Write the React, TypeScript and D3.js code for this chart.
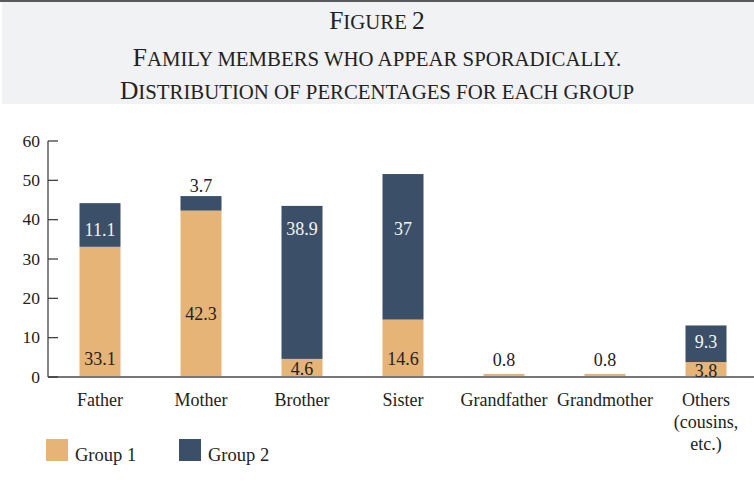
import React, { useEffect, useRef } from "react";
import * as d3 from "d3";

const categories = ["Father", "Mother", "Brother", "Sister", "Grandfather", "Grandmother", "Others (cousins, etc.)"];
const group1 = [33.1, 42.3, 4.6, 14.6, 0.8, 0.8, 3.8];
const group2 = [11.1, 3.7, 38.9, 37, 0, 0, 9.3];
// where each value label sits, in axis units
const group1LabelAt = [4.6, 16.0, 2.0, 4.6, 4.3, 4.3, 1.5];
const group2LabelAt = [37.4, 48.6, 37.6, 37.6, null, null, 8.9];
const yTicks = [0, 10, 20, 30, 40, 50, 60];
const seriesNames = ["Group 1", "Group 2"];
const titleLines = ["Figure 2", "Family members who appear sporadically.", "Distribution of percentages for each group"];

// split a line into runs of big capitals / small capitals
const smallCaps = (s) => {
  const runs = [];
  for (const ch of s) {
    const big = /[A-Z0-9]/.test(ch);
    const last = runs[runs.length - 1];
    if (last && last.big === big) last.text += ch.toUpperCase();
    else runs.push({ big, text: ch.toUpperCase() });
  }
  return runs;
};

const App = () => {
  const svgRef = useRef(null);

  useEffect(() => {
    const width = 754;
    const height = 483;
    const colors = ["#e5b476", "#3b5068"];
    const font = "'Liberation Serif', 'Times New Roman', serif";

    const svg = d3.select(svgRef.current).attr("width", width).attr("height", height);
    svg.selectAll("*").remove();

    // title box
    svg.append("rect").attr("x", 2).attr("y", 2).attr("width", width - 2).attr("height", 102).attr("fill", "#f1f2f4");
    svg.append("rect").attr("x", 0).attr("y", 0).attr("width", width).attr("height", 2).attr("fill", "#5a5a5a");

    svg
      .append("g")
      .selectAll("text")
      .data(titleLines)
      .join("text")
      .attr("x", width / 2)
      .attr("y", (d, i) => [29, 66, 99][i])
      .attr("text-anchor", "middle")
      .attr("font-family", font)
      .attr("fill", "#222")
      .selectAll("tspan")
      .data((d) => smallCaps(d))
      .join("tspan")
      .attr("font-size", (d) => (d.big ? 25.5 : 20.8))
      .text((d) => d.text);

    const x = d3.scaleBand().domain(categories).range([49.5, 756.5]).paddingInner(0.594).paddingOuter(0.297);
    const y = d3.scaleLinear().domain([0, 60]).range([377, 141]);

    // bars
    const bars = svg.append("g");
    bars
      .selectAll("rect.g1")
      .data(categories)
      .join("rect")
      .attr("class", "g1")
      .attr("x", (d) => x(d))
      .attr("width", x.bandwidth())
      .attr("y", (d, i) => y(group1[i]))
      .attr("height", (d, i) => y(0) - y(group1[i]))
      .attr("fill", colors[0]);
    bars
      .selectAll("rect.g2")
      .data(categories)
      .join("rect")
      .attr("class", "g2")
      .attr("x", (d) => x(d))
      .attr("width", x.bandwidth())
      .attr("y", (d, i) => y(group1[i] + group2[i]))
      .attr("height", (d, i) => y(group1[i]) - y(group1[i] + group2[i]))
      .attr("fill", colors[1]);

    // axis
    const axis = svg.append("g").attr("font-family", font);
    axis.append("line").attr("x1", 48).attr("x2", 48).attr("y1", y(60)).attr("y2", y(0)).attr("stroke", "#333").attr("stroke-width", 1.2);
    axis.append("line").attr("x1", 48).attr("x2", width).attr("y1", y(0)).attr("y2", y(0)).attr("stroke", "#777").attr("stroke-width", 2);
    axis
      .selectAll("line.tick")
      .data(yTicks)
      .join("line")
      .attr("class", "tick")
      .attr("x1", 48)
      .attr("x2", 58)
      .attr("y1", (d) => y(d))
      .attr("y2", (d) => y(d))
      .attr("stroke", "#333")
      .attr("stroke-width", 1.2);
    axis
      .selectAll("text")
      .data(yTicks)
      .join("text")
      .attr("x", 40)
      .attr("y", (d) => y(d))
      .attr("dy", "0.33em")
      .attr("text-anchor", "end")
      .attr("font-size", 17.5)
      .attr("fill", "#222")
      .text((d) => d);

    // category labels
    const cats = svg
      .append("g")
      .selectAll("text")
      .data(categories)
      .join("text")
      .attr("x", (d) => x(d) + x.bandwidth() / 2)
      .attr("y", 406)
      .attr("text-anchor", "middle")
      .attr("font-family", font)
      .attr("font-size", 18)
      .attr("fill", "#222");
    cats
      .selectAll("tspan")
      .data((d) => (d.startsWith("Others") ? ["Others", "(cousins,", "etc.)"] : [d]))
      .join("tspan")
      .attr("x", function () {
        return (this.parentNode as SVGTextElement).getAttribute("x");
      })
      .attr("dy", (d, i) => (i === 0 ? 0 : 22))
      .text((d) => d);

    // value labels
    const labels = svg.append("g").attr("font-family", font).attr("font-size", 18).attr("text-anchor", "middle");
    labels
      .selectAll("text.l1")
      .data(categories)
      .join("text")
      .attr("class", "l1")
      .attr("x", (d) => x(d) + x.bandwidth() / 2)
      .attr("y", (d, i) => y(group1LabelAt[i]))
      .attr("dy", "0.35em")
      .attr("fill", "#222")
      .text((d, i) => group1[i]);
    labels
      .selectAll("text.l2")
      .data(categories.filter((d, i) => group2[i] > 0))
      .join("text")
      .attr("class", "l2")
      .attr("x", (d) => x(d) + x.bandwidth() / 2)
      .attr("y", (d) => y(group2LabelAt[categories.indexOf(d)]))
      .attr("dy", "0.35em")
      .attr("fill", (d) => (group2[categories.indexOf(d)] < 5 ? "#222" : "#f4f4f4"))
      .text((d) => group2[categories.indexOf(d)]);

    // legend
    const legend = svg
      .append("g")
      .selectAll("g")
      .data(seriesNames)
      .join("g")
      .attr("transform", (d, i) => `translate(${46 + i * 133},439)`);
    legend.append("rect").attr("width", 22).attr("height", 22).attr("fill", (d, i) => colors[i]);
    legend
      .append("text")
      .attr("x", 29)
      .attr("y", 22)
      .attr("font-family", font)
      .attr("font-size", 18.5)
      .attr("fill", "#222")
      .text((d) => d);
  }, []);

  return (
    <div style={{ position: "absolute", left: 0, top: 0, background: "#fff" }}>
      <svg ref={svgRef} style={{ display: "block" }}></svg>
    </div>
  );
};

export default App;
